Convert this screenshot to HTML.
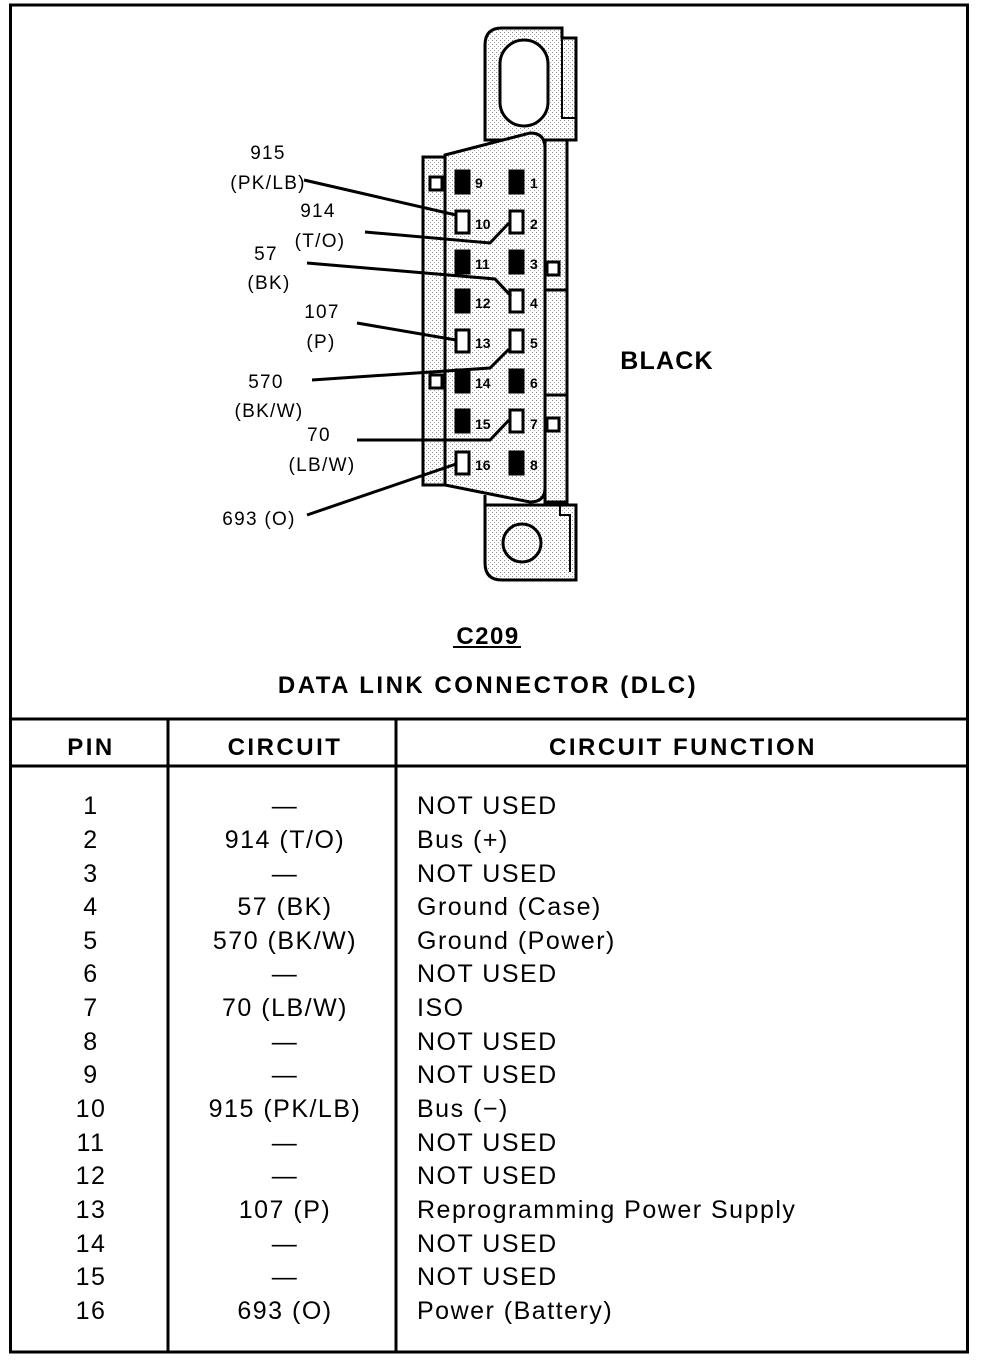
<!DOCTYPE html>
<html><head><meta charset="utf-8"><style>
html,body{margin:0;padding:0;background:#fff;}
svg{display:block;}
text{font-family:"Liberation Sans",Arial,sans-serif;fill:#000;}
</style></head><body>
<svg width="992" height="1360" viewBox="0 0 992 1360" xmlns="http://www.w3.org/2000/svg">
<defs>
<pattern id="dots" width="4" height="4" patternUnits="userSpaceOnUse">
<rect width="4" height="4" fill="#fff"/><rect x="0" y="0" width="1" height="1" fill="#888"/><rect x="2" y="2" width="1" height="1" fill="#aaa"/>
</pattern>
</defs>
<rect x="10.5" y="5" width="957" height="1347" fill="none" stroke="#000" stroke-width="3"/>
<line x1="10" y1="719" x2="968" y2="719" stroke="#000" stroke-width="3"/>
<line x1="10" y1="766" x2="968" y2="766" stroke="#000" stroke-width="3"/>
<line x1="168" y1="719" x2="168" y2="1352" stroke="#000" stroke-width="3"/>
<line x1="396" y1="719" x2="396" y2="1352" stroke="#000" stroke-width="3"/>

<path d="M485,140 L485,45 Q485,28 502,28 L562,28 L562,38 L576,38 L576,140 Z" fill="url(#dots)" stroke="#000" stroke-width="3"/>
<path d="M562,38 L562,118 L576,118" fill="none" stroke="#000" stroke-width="2"/>
<rect x="500" y="40" width="48" height="86" rx="24" fill="#fff" stroke="#000" stroke-width="3"/>
<path d="M485,495 L485,563 Q485,580 502,580 L576,580 L576,505 L485,505" fill="url(#dots)" stroke="#000" stroke-width="3"/>
<path d="M560,505 L560,515 L570,515 L570,572" fill="none" stroke="#000" stroke-width="2"/>
<circle cx="522" cy="543" r="19" fill="url(#dots)" stroke="#000" stroke-width="3"/>
<rect x="545" y="140" width="22" height="362" fill="url(#dots)" stroke="#000" stroke-width="3"/>
<line x1="545" y1="290" x2="567" y2="290" stroke="#000" stroke-width="3"/>
<line x1="545" y1="395" x2="567" y2="395" stroke="#000" stroke-width="3"/>
<rect x="547" y="262" width="12" height="13" fill="#fff" stroke="#000" stroke-width="3"/>
<rect x="547" y="418" width="12" height="13" fill="#fff" stroke="#000" stroke-width="3"/>
<rect x="423" y="157" width="22" height="328" fill="url(#dots)" stroke="#000" stroke-width="3"/>
<rect x="430" y="177" width="12" height="13" fill="#fff" stroke="#000" stroke-width="3"/>
<rect x="430" y="375" width="12" height="13" fill="#fff" stroke="#000" stroke-width="3"/>
<path d="M445,155 L530,133 Q545,133 545,148 L545,488 Q545,502 530,502 L445,485 Z" fill="url(#dots)" stroke="#000" stroke-width="3"/>

<g stroke="#000" stroke-width="3">
<rect x="456" y="171" width="13" height="22" fill="#000"/>
<rect x="510" y="171" width="13" height="22" fill="#000"/>
<rect x="456" y="211" width="13" height="22" fill="#fff"/>
<rect x="510" y="211" width="13" height="22" fill="#fff"/>
<rect x="456" y="251" width="13" height="22" fill="#000"/>
<rect x="510" y="251" width="13" height="22" fill="#000"/>
<rect x="456" y="290" width="13" height="22" fill="#000"/>
<rect x="510" y="290" width="13" height="22" fill="#fff"/>
<rect x="456" y="330" width="13" height="22" fill="#fff"/>
<rect x="510" y="330" width="13" height="22" fill="#fff"/>
<rect x="456" y="370" width="13" height="22" fill="#000"/>
<rect x="510" y="370" width="13" height="22" fill="#000"/>
<rect x="456" y="410" width="13" height="22" fill="#000"/>
<rect x="510" y="410" width="13" height="22" fill="#fff"/>
<rect x="456" y="452" width="13" height="22" fill="#fff"/>
<rect x="510" y="452" width="13" height="22" fill="#000"/>
</g>
<g font-size="14" font-weight="bold">
<text x="475" y="188">9</text><text x="530" y="188">1</text>
<text x="475" y="229">10</text><text x="530" y="229">2</text>
<text x="475" y="269">11</text><text x="530" y="269">3</text>
<text x="475" y="308">12</text><text x="530" y="308">4</text>
<text x="475" y="348">13</text><text x="530" y="348">5</text>
<text x="475" y="388">14</text><text x="530" y="388">6</text>
<text x="475" y="429">15</text><text x="530" y="429">7</text>
<text x="475" y="470">16</text><text x="530" y="470">8</text>
</g>

<g stroke="#000" stroke-width="3" fill="none">
<line x1="304" y1="180" x2="456" y2="215"/>
<polyline points="365,232 490,243 509,223"/>
<polyline points="307,263 495,279 511,296"/>
<line x1="357" y1="323" x2="456" y2="340"/>
<polyline points="312,380 490,368 509,349"/>
<polyline points="357,440 490,440 509,420"/>
<line x1="307" y1="515" x2="456" y2="464"/>
</g>
<g font-size="19" text-anchor="middle" letter-spacing="1.3">
<text x="268" y="159">915</text><text x="268" y="189">(PK/LB)</text>
<text x="318" y="217">914</text><text x="320" y="247">(T/O)</text>
<text x="266" y="260">57</text><text x="269" y="289">(BK)</text>
<text x="322" y="318">107</text><text x="321" y="348">(P)</text>
<text x="266" y="388">570</text><text x="269" y="417">(BK/W)</text>
<text x="319" y="441">70</text><text x="322" y="471">(LB/W)</text>
<text x="259" y="525">693 (O)</text>
</g>

<text x="667" y="369" font-size="25" font-weight="bold" text-anchor="middle" letter-spacing="1.2">BLACK</text>
<text x="488" y="644" font-size="24" font-weight="bold" text-anchor="middle" letter-spacing="1.5">C209</text>
<line x1="453" y1="647" x2="521" y2="647" stroke="#000" stroke-width="2"/>
<text x="488" y="693" font-size="24" font-weight="bold" text-anchor="middle" letter-spacing="2.5">DATA LINK CONNECTOR (DLC)</text>

<g font-size="24" font-weight="bold" text-anchor="middle" letter-spacing="2.5">
<text x="91" y="755">PIN</text>
<text x="285" y="755">CIRCUIT</text>
<text x="683" y="755">CIRCUIT FUNCTION</text>
</g>
<g font-size="25" text-anchor="middle" letter-spacing="1.5">
<text x="91" y="814">1</text><text x="91" y="848">2</text><text x="91" y="882">3</text><text x="91" y="915">4</text>
<text x="91" y="949">5</text><text x="91" y="982">6</text><text x="91" y="1016">7</text><text x="91" y="1050">8</text>
<text x="91" y="1083">9</text><text x="91" y="1117">10</text><text x="91" y="1151">11</text><text x="91" y="1184">12</text>
<text x="91" y="1218">13</text><text x="91" y="1252">14</text><text x="91" y="1285">15</text><text x="91" y="1319">16</text>
<text x="285" y="814">—</text><text x="285" y="848">914 (T/O)</text><text x="285" y="882">—</text><text x="285" y="915">57 (BK)</text>
<text x="285" y="949">570 (BK/W)</text><text x="285" y="982">—</text><text x="285" y="1016">70 (LB/W)</text><text x="285" y="1050">—</text>
<text x="285" y="1083">—</text><text x="285" y="1117">915 (PK/LB)</text><text x="285" y="1151">—</text><text x="285" y="1184">—</text>
<text x="285" y="1218">107 (P)</text><text x="285" y="1252">—</text><text x="285" y="1285">—</text><text x="285" y="1319">693 (O)</text>
</g>
<g font-size="25" letter-spacing="1.5">
<text x="417" y="814">NOT USED</text><text x="417" y="848">Bus (+)</text><text x="417" y="882">NOT USED</text><text x="417" y="915">Ground (Case)</text>
<text x="417" y="949">Ground (Power)</text><text x="417" y="982">NOT USED</text><text x="417" y="1016">ISO</text><text x="417" y="1050">NOT USED</text>
<text x="417" y="1083">NOT USED</text><text x="417" y="1117">Bus (−)</text><text x="417" y="1151">NOT USED</text><text x="417" y="1184">NOT USED</text>
<text x="417" y="1218">Reprogramming Power Supply</text><text x="417" y="1252">NOT USED</text><text x="417" y="1285">NOT USED</text><text x="417" y="1319">Power (Battery)</text>
</g>
</svg>
</body></html>
